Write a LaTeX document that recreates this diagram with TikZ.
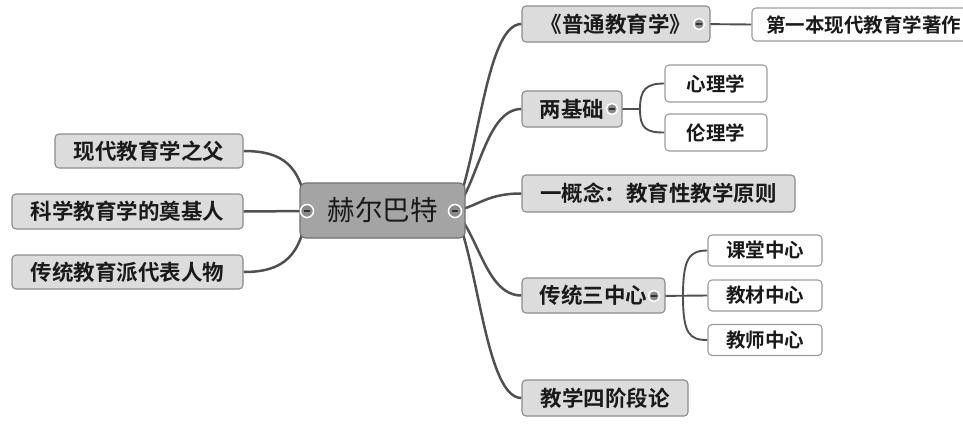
\documentclass[tikz,border=0pt]{standalone}
\usepackage{fontspec}
\setmainfont{Noto Sans CJK SC}[BoldFont={Noto Sans CJK SC Bold}]
\usetikzlibrary{calc,backgrounds}
\definecolor{lnc}{HTML}{505050}
\definecolor{txt}{HTML}{1A1A1A}
\definecolor{brd}{HTML}{8C8C8C}
\definecolor{brd2}{HTML}{9C9C9C}
\definecolor{mfill}{HTML}{DCDCDC}
\definecolor{rfill}{HTML}{A4A4A4}
\definecolor{rbrd}{HTML}{707070}
\definecolor{mkfill}{HTML}{8A8A8A}
\definecolor{mkdash}{HTML}{303030}
\begin{document}
\begin{tikzpicture}[x=1pt,y=-1pt,
  box/.style={rounded corners=4pt, line width=1.1pt, inner sep=0pt, text=txt,
    font=\bfseries\fontsize{21.5}{25}\selectfont},
  mainbox/.style={box, draw=brd, fill=mfill},
  subbox/.style={box, draw=brd2, fill=white, font=\bfseries\fontsize{19.5}{23}\selectfont},
  rootbox/.style={box, draw=rbrd, fill=rfill, rounded corners=6pt, font=\fontsize{27.5}{32}\selectfont},
  conn/.style={draw=lnc, line width=2.5pt},
  subconn/.style={draw=lnc, line width=1.9pt},
  marker/.style={circle, minimum size=11pt, inner sep=0pt, fill=mkfill, draw=white, line width=1.5pt,
    path picture={\draw[mkdash, line width=1.8pt]
      ([xshift=-3pt]path picture bounding box.center) -- ([xshift=3pt]path picture bounding box.center);}},
  rootmarker/.style={marker, minimum size=13pt}
]
\useasboundingbox (0,0) rectangle (963,429);
\clip (0,0) rectangle (963,429);

% root
\node[rootbox, minimum width=165pt, minimum height=55pt] (c) at (382.5,210.5) {赫尔巴特};
% right branches
\node[mainbox, minimum width=188pt, minimum height=36pt] (pt) at (616,24) {《普通教育学》};
\node[subbox, minimum width=223pt, minimum height=33pt] (dy) at (863.5,24.5) {第一本现代教育学著作\hspace{16pt}};
\node[mainbox, minimum width=100pt, minimum height=36pt] (ljc) at (572,109) {两基础\hspace{6pt}};
\node[subbox, minimum width=102pt, minimum height=37pt] (xl) at (716,83.5) {心理学};
\node[subbox, minimum width=102pt, minimum height=37pt] (ll) at (716,132.5) {伦理学};
\node[mainbox, minimum width=273pt, minimum height=37pt] (ygn) at (658.5,193.5) {一概念：教育性教学原则};
\node[mainbox, minimum width=143pt, minimum height=35pt] (ct) at (593.5,295.5) {传统三中心\hspace{6pt}};
\node[subbox, minimum width=114pt, minimum height=31pt] (kt) at (765,250.5) {课堂中心};
\node[subbox, minimum width=114pt, minimum height=31pt] (jc) at (765,295.5) {教材中心};
\node[subbox, minimum width=114pt, minimum height=31pt] (js) at (765,340) {教师中心};
\node[mainbox, minimum width=166pt, minimum height=36pt] (jx) at (605,398) {教学四阶段论};
% left branches
\node[mainbox, minimum width=188pt, minimum height=34pt] (l1) at (149,151) {现代教育学之父};
\node[mainbox, minimum width=231pt, minimum height=35pt] (l2) at (127.5,211.5) {科学教育学的奠基人};
\node[mainbox, minimum width=231pt, minimum height=34pt] (l3) at (127.5,272) {传统教育派代表人物};

% collapse markers
\node[rootmarker] (mcl) at (307,211) {};
\node[rootmarker] (mcr) at (455,211) {};
\node[marker] (mpt) at (699,24) {};
\node[marker] (mljc) at (612,109) {};
\node[marker] (mct) at (654,296) {};

\coordinate (b1) at (640,109);
\coordinate (b2) at (683,296);

\begin{pgfonlayer}{background}
\fill[white] (0,0) rectangle (963,429);
% root to right
\draw[conn] (mcr.center) .. controls +(24,-56) and +(-35,0) .. (pt.west);
\draw[conn] (mcr.center) .. controls +(24,-31) and +(-35,0) .. (ljc.west);
\draw[conn] (mcr.center) .. controls +(24,-5) and +(-35,0) .. (ygn.west);
\draw[conn] (mcr.center) .. controls +(24,25) and +(-35,0) .. (ct.west);
\draw[conn] (mcr.center) .. controls +(24,56) and +(-35,0) .. (jx.west);
% root to left
\draw[conn] (mcl.center) .. controls +(-6,-45) and +(40,0) .. (l1.east);
\draw[conn] (mcl.center) -- (l2.east);
\draw[conn] (mcl.center) .. controls +(-6,45) and +(40,0) .. (l3.east);
% sub branches
\draw[subconn] (mpt.center) -- (dy.west);
\draw[subconn] (mljc.center) -- (b1);
\draw[subconn] (b1) .. controls +(0,-20) and +(-18,0) .. (xl.west);
\draw[subconn] (b1) .. controls +(0,20) and +(-18,0) .. (ll.west);
\draw[subconn] (mct.center) -- (jc.west);
\draw[subconn] (b2) .. controls +(0,-38) and +(-18,0) .. (kt.west);
\draw[subconn] (b2) .. controls +(0,38) and +(-18,0) .. (js.west);
\end{pgfonlayer}
\end{tikzpicture}
\end{document}
